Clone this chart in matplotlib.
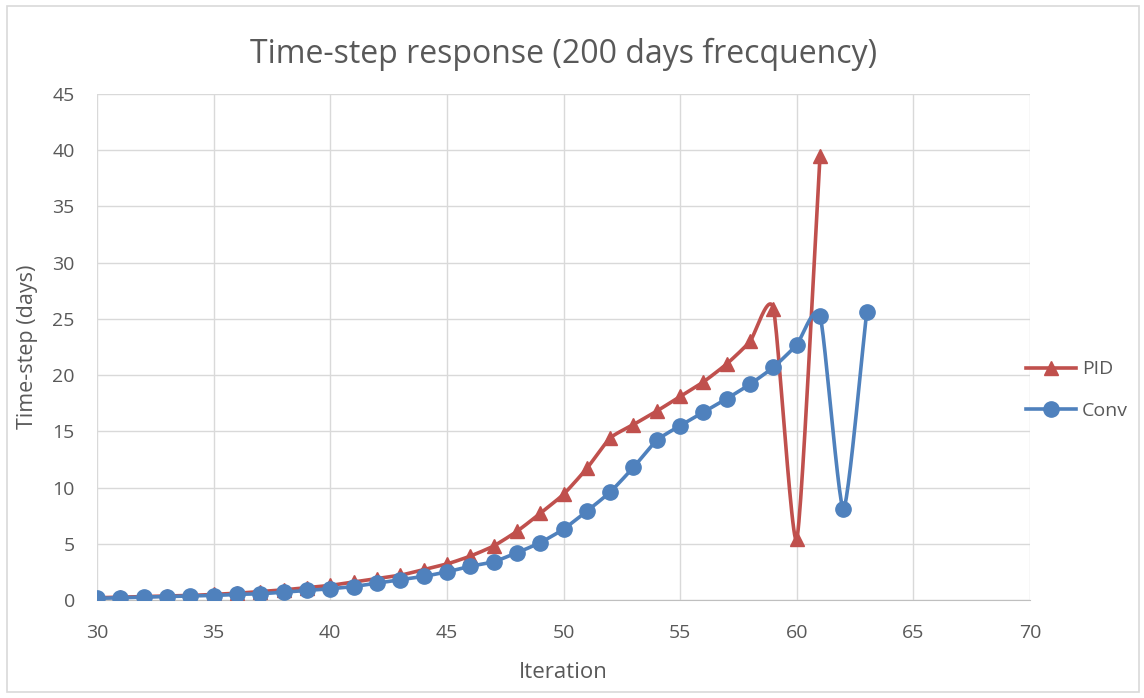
import numpy as np
import matplotlib.pyplot as plt
from matplotlib.patches import Rectangle

# Iteration number and time-step (days) for the two controllers
iter_pid = np.arange(30, 62)
pid = [0.2, 0.25, 0.3, 0.35, 0.4, 0.5, 0.6, 0.75, 0.9, 1.1, 1.3, 1.6, 1.9, 2.2,
       2.7, 3.2, 3.9, 4.8, 6.1, 7.7, 9.4, 11.7, 14.4, 15.6, 16.8, 18.1, 19.4,
       21.0, 23.0, 25.9, 5.4, 39.5]

iter_conv = np.arange(30, 64)
conv = [0.15, 0.2, 0.25, 0.3, 0.35, 0.4, 0.5, 0.55, 0.7, 0.85, 1.0, 1.2, 1.5,
        1.8, 2.1, 2.5, 3.0, 3.4, 4.2, 5.1, 6.3, 7.9, 9.6, 11.8, 14.2, 15.5,
        16.7, 17.9, 19.2, 20.7, 22.7, 25.3, 8.1, 25.6]

xticks = np.arange(30, 71, 5)
yticks = np.arange(0, 46, 5)


def smooth(x, y, k=0.6, n=24):
    # cardinal spline through the points (smoothed line, k scales the tangents)
    x = np.asarray(x, float)
    y = np.asarray(y, float)
    tx = np.gradient(x) * k
    ty = np.gradient(y) * k
    t = np.linspace(0, 1, n, endpoint=False)
    h00 = 2 * t**3 - 3 * t**2 + 1
    h10 = t**3 - 2 * t**2 + t
    h01 = -2 * t**3 + 3 * t**2
    h11 = t**3 - t**2
    xs, ys = [], []
    for i in range(len(x) - 1):
        xs.extend(h00 * x[i] + h10 * tx[i] + h01 * x[i + 1] + h11 * tx[i + 1])
        ys.extend(h00 * y[i] + h10 * ty[i] + h01 * y[i + 1] + h11 * ty[i + 1])
    xs.append(x[-1])
    ys.append(y[-1])
    return np.array(xs), np.array(ys)


plt.rcParams['font.family'] = ['Open Sans', 'DejaVu Sans']
red = '#C0504D'
blue = '#4F81BD'
grey = '#595959'

fig = plt.figure(figsize=(11.44, 6.98), dpi=100)
fig.patches.append(Rectangle((0.006, 0.008), 0.99, 0.984, transform=fig.transFigure,
                             fill=False, edgecolor='#d9d9d9', linewidth=1.2))
ax = fig.add_axes([97 / 1144, 1 - 600 / 698, 933 / 1144, 506 / 698])

sx, sy = smooth(iter_pid, pid)
ax.plot(sx, sy, color=red, lw=2.6, zorder=3)
ax.plot(iter_pid, pid, ls='none', marker='^', ms=10, color=red, zorder=4)
sx, sy = smooth(iter_conv, conv)
ax.plot(sx, sy, color=blue, lw=2.6, zorder=3)
ax.plot(iter_conv, conv, ls='none', marker='o', ms=11, color=blue, zorder=4)

# legend handles
ax.plot([], [], color=red, lw=2.6, marker='^', ms=10, label='PID')
ax.plot([], [], color=blue, lw=2.6, marker='o', ms=11, label='Conv')

ax.set_xlim(30, 70)
ax.set_ylim(0, 45)
ax.set_xticks(xticks)
ax.set_yticks(yticks)
ax.grid(True, color='#d9d9d9', lw=1)
ax.set_axisbelow(True)
for s in ['top', 'right', 'left']:
    ax.spines[s].set_visible(False)
ax.spines['bottom'].set_color('#bfbfbf')
ax.tick_params(length=0, labelsize=14, colors=grey)
ax.tick_params(axis='x', pad=17)
ax.tick_params(axis='y', pad=16)

ax.set_title('Time-step response (200 days frecquency)', fontsize=23,
             color=grey, pad=22)
ax.set_xlabel('Iteration', fontsize=16, color=grey, labelpad=15)
ax.set_ylabel('Time-step (days)', fontsize=15.5, color=grey, labelpad=10)

handles = [h for h in ax.get_lines() if h.get_label() in ('PID', 'Conv')]
fig.legend(handles=handles, loc='center left', bbox_to_anchor=(1008 / 1144, 1 - 390 / 698),
           frameon=False, fontsize=14, labelcolor=grey, handlelength=2.6,
           handletextpad=0.3, labelspacing=1.2)

fig.savefig('out.png', dpi=100)
